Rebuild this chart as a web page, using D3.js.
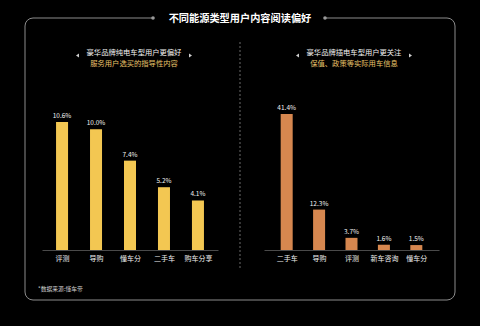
<!DOCTYPE html>
<html>
<head>
<meta charset="utf-8">
<script src="https://cdn.jsdelivr.net/npm/d3@7"></script>
<style>
  html, body { margin: 0; padding: 0; background: #000; }
  svg { display: block; font-family: "Noto Sans CJK SC", "Noto Sans", sans-serif; }
</style>
</head>
<body>
<svg id="chart" width="480" height="326"></svg>
<script>
// data
const titleText = "不同能源类型用户内容阅读偏好";
const leftCats = ["评测", "导购", "懂车分", "二手车", "购车分享"];
const leftVals = [10.6, 10.0, 7.4, 5.2, 4.1];
const leftNote = ["豪华品牌纯电车型用户更偏好", "服务用户选买的指导性内容"];
const rightCats = ["二手车", "导购", "评测", "新车咨询", "懂车分"];
const rightVals = [41.4, 12.3, 3.7, 1.6, 1.5];
const rightNote = ["豪华品牌插电车型用户更关注", "保值、政策等实际用车信息"];
const sourceText = "*数据来源:懂车帝";

const svg = d3.select("#chart");
svg.append("rect").attr("width", 480).attr("height", 326).attr("fill", "#000");

// frame with a gap for the title
svg.append("path")
    .attr("d", "M153,18 H33 A8,8 0 0 0 25,26 V292 A8,8 0 0 0 33,300 H447 A8,8 0 0 0 455,292 V26 A8,8 0 0 0 447,18 H325")
    .attr("fill", "none")
    .attr("stroke", "#8c8c8c")
    .attr("stroke-width", 1);
[153, 325].forEach(x => {
    svg.append("circle").attr("cx", x).attr("cy", 18).attr("r", 1.8).attr("fill", "#9a9a9a");
});
svg.append("text")
    .attr("x", 240).attr("y", 18).attr("dy", "0.36em")
    .attr("text-anchor", "middle")
    .attr("fill", "#fff").attr("font-size", 10.2).attr("font-weight", "bold")
    .text(titleText);

// dashed divider
svg.append("line")
    .attr("x1", 240).attr("x2", 240).attr("y1", 42).attr("y2", 268)
    .attr("stroke", "#6a6a6a").attr("stroke-dasharray", "2,2");

function drawPanel(opts) {
    const x = d3.scalePoint().domain(opts.cats).range(opts.xr).padding(opts.pad);
    const y = d3.scaleLinear().domain([0, d3.max(opts.vals)]).range([250, opts.top]);
    const g = svg.append("g");

    // subtitle
    const cx = opts.noteX;
    g.append("text").attr("x", cx).attr("y", 52).attr("dy", "0.36em")
        .attr("text-anchor", "middle").attr("fill", "#f2f2f2").attr("font-size", 7.3)
        .text(opts.note[0]);
    g.append("text").attr("x", cx).attr("y", 63.5).attr("dy", "0.36em")
        .attr("text-anchor", "middle").attr("fill", "#e9c36a").attr("font-size", 7.3)
        .text(opts.note[1]);
    g.append("path").attr("d", `M${cx - 58},55.5 l3,-2 v4 z`).attr("fill", "#cfcfcf");
    g.append("path").attr("d", `M${cx + 58},55.5 l-3,-2 v4 z`).attr("fill", "#cfcfcf");

    // bars
    const bw = 12;
    g.selectAll("rect.bar").data(opts.vals).join("rect")
        .attr("class", "bar")
        .attr("x", (d, i) => x(opts.cats[i]) - bw / 2)
        .attr("y", d => y(d))
        .attr("width", bw)
        .attr("height", d => 250 - y(d))
        .attr("fill", opts.color);

    g.selectAll("text.val").data(opts.vals).join("text")
        .attr("class", "val")
        .attr("x", (d, i) => x(opts.cats[i]))
        .attr("y", d => y(d) - 4)
        .attr("text-anchor", "middle")
        .attr("fill", "#f0f0f0").attr("font-size", 6.5)
        .text(d => d.toFixed(1) + "%");

    // axis
    const ax = g.append("g").attr("transform", "translate(0,250)")
        .call(d3.axisBottom(x).tickSize(0).tickPadding(6));
    ax.select(".domain").attr("stroke", "#4a4a4a");
    ax.selectAll("text")
        .attr("fill", "#eee").attr("font-size", 7)
        .attr("font-family", "Noto Sans CJK SC, sans-serif");
}

drawPanel({
    cats: leftCats, vals: leftVals, xr: [42, 218], pad: 0.59, top: 122,
    color: "#f3c752", note: leftNote, noteX: 134
});
drawPanel({
    cats: rightCats, vals: rightVals, xr: [264, 439], pad: 0.7, top: 114,
    color: "#d6874f", note: rightNote, noteX: 354
});

svg.append("text")
    .attr("x", 38).attr("y", 289).attr("dy", "0.36em")
    .attr("fill", "#d0d0d0").attr("font-size", 5.8)
    .text(sourceText);
</script>
</body>
</html>
